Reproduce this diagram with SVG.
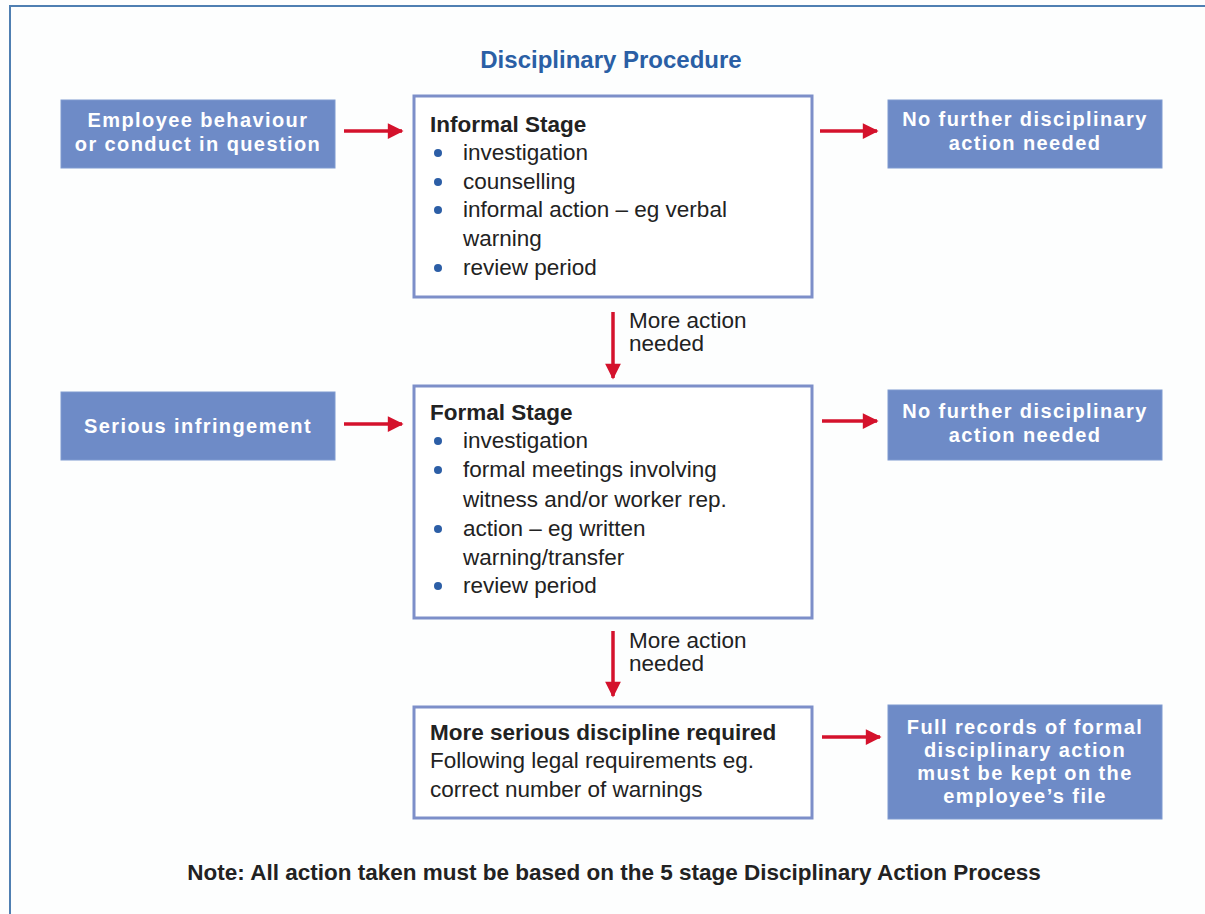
<svg xmlns="http://www.w3.org/2000/svg" width="1205" height="914" viewBox="0 0 1205 914">
<style>
.bg{fill:#fdfefe}
.frame{fill:none;stroke:#4f7fb2;stroke-width:2}
.blue{fill:#6e8bc7;stroke:#7f9ad0;stroke-width:1}
.stage{fill:#ffffff;stroke:#7d8fc9;stroke-width:3}
.wt{font-family:"Liberation Sans",Arial,sans-serif;font-weight:bold;font-size:20px;letter-spacing:1.4px;fill:#ffffff;text-anchor:middle}
.hd{font-family:"Liberation Sans",Arial,sans-serif;font-weight:bold;font-size:22.5px;fill:#222222}
.tx{font-family:"Liberation Sans",Arial,sans-serif;font-size:22.5px;fill:#222222}
.bul{fill:#2c5ea6}
.title{font-family:"Liberation Sans",Arial,sans-serif;font-weight:bold;font-size:24px;fill:#2a5fa5;text-anchor:middle}
.note{font-family:"Liberation Sans",Arial,sans-serif;font-weight:bold;font-size:22.5px;fill:#222222;text-anchor:middle}
.arr{stroke:#d4122c;stroke-width:3.5;fill:none;marker-end:url(#ah)}
</style>
<defs>
<marker id="ah" viewBox="0 0 10 10" refX="9" refY="5" markerWidth="5" markerHeight="4.5" orient="auto" markerUnits="strokeWidth">
<path d="M0,0 L10,5 L0,10 z" fill="#d4122c"/>
</marker>
</defs>
<rect class="bg" x="0" y="0" width="1205" height="914"/>
<rect class="frame" x="10" y="6" width="1210" height="930"/>
<text class="title" x="611" y="68">Disciplinary Procedure</text>

<g id="employee">
<rect class="blue" x="61" y="100" width="274" height="68"/>
<text class="wt" x="198" y="127">Employee behaviour</text>
<text class="wt" x="198" y="151">or conduct in question</text>
</g>

<g id="informal">
<rect class="stage" x="414" y="96" width="398" height="201"/>
<text class="hd" x="430" y="132">Informal Stage</text>
<circle class="bul" cx="438" cy="153" r="4"/>
<text class="tx" x="463" y="160">investigation</text>
<circle class="bul" cx="438" cy="182" r="4"/>
<text class="tx" x="463" y="189">counselling</text>
<circle class="bul" cx="438" cy="210" r="4"/>
<text class="tx" x="463" y="217">informal action – eg verbal</text>
<text class="tx" x="463" y="246">warning</text>
<circle class="bul" cx="438" cy="268" r="4"/>
<text class="tx" x="463" y="275">review period</text>
</g>

<g id="nofurther1">
<rect class="blue" x="888" y="100" width="274" height="68"/>
<text class="wt" x="1025" y="126">No further disciplinary</text>
<text class="wt" x="1025" y="150">action needed</text>
</g>

<g id="serious">
<rect class="blue" x="61" y="392" width="274" height="68"/>
<text class="wt" x="198" y="433">Serious infringement</text>
</g>

<g id="formal">
<rect class="stage" x="414" y="386" width="398" height="232"/>
<text class="hd" x="430" y="420">Formal Stage</text>
<circle class="bul" cx="438" cy="441" r="4"/>
<text class="tx" x="463" y="448">investigation</text>
<circle class="bul" cx="438" cy="470" r="4"/>
<text class="tx" x="463" y="477">formal meetings involving</text>
<text class="tx" x="463" y="507">witness and/or worker rep.</text>
<circle class="bul" cx="438" cy="529" r="4"/>
<text class="tx" x="463" y="536">action – eg written</text>
<text class="tx" x="463" y="565">warning/transfer</text>
<circle class="bul" cx="438" cy="586" r="4"/>
<text class="tx" x="463" y="593">review period</text>
</g>

<g id="nofurther2">
<rect class="blue" x="888" y="390" width="274" height="70"/>
<text class="wt" x="1025" y="418">No further disciplinary</text>
<text class="wt" x="1025" y="442">action needed</text>
</g>

<g id="moreserious">
<rect class="stage" x="414" y="707" width="398" height="111"/>
<text class="hd" x="430" y="740">More serious discipline required</text>
<text class="tx" x="430" y="768">Following legal requirements eg.</text>
<text class="tx" x="430" y="797">correct number of warnings</text>
</g>

<g id="fullrecords">
<rect class="blue" x="888" y="705" width="274" height="114"/>
<text class="wt" x="1025" y="734">Full records of formal</text>
<text class="wt" x="1025" y="757">disciplinary action</text>
<text class="wt" x="1025" y="780">must be kept on the</text>
<text class="wt" x="1025" y="803">employee’s file</text>
</g>

<g id="connectors">
<line class="arr" x1="344" y1="131" x2="402" y2="131"/>
<line class="arr" x1="820" y1="131" x2="877" y2="131"/>
<line class="arr" x1="613" y1="312" x2="613" y2="378"/>
<text class="tx" x="629" y="328">More action</text>
<text class="tx" x="629" y="351">needed</text>
<line class="arr" x1="344" y1="424" x2="402" y2="424"/>
<line class="arr" x1="822" y1="421" x2="877" y2="421"/>
<line class="arr" x1="613" y1="631" x2="613" y2="696"/>
<text class="tx" x="629" y="648">More action</text>
<text class="tx" x="629" y="671">needed</text>
<line class="arr" x1="822" y1="737" x2="880" y2="737"/>
</g>

<text class="note" x="614" y="880">Note: All action taken must be based on the 5 stage Disciplinary Action Process</text>
</svg>
